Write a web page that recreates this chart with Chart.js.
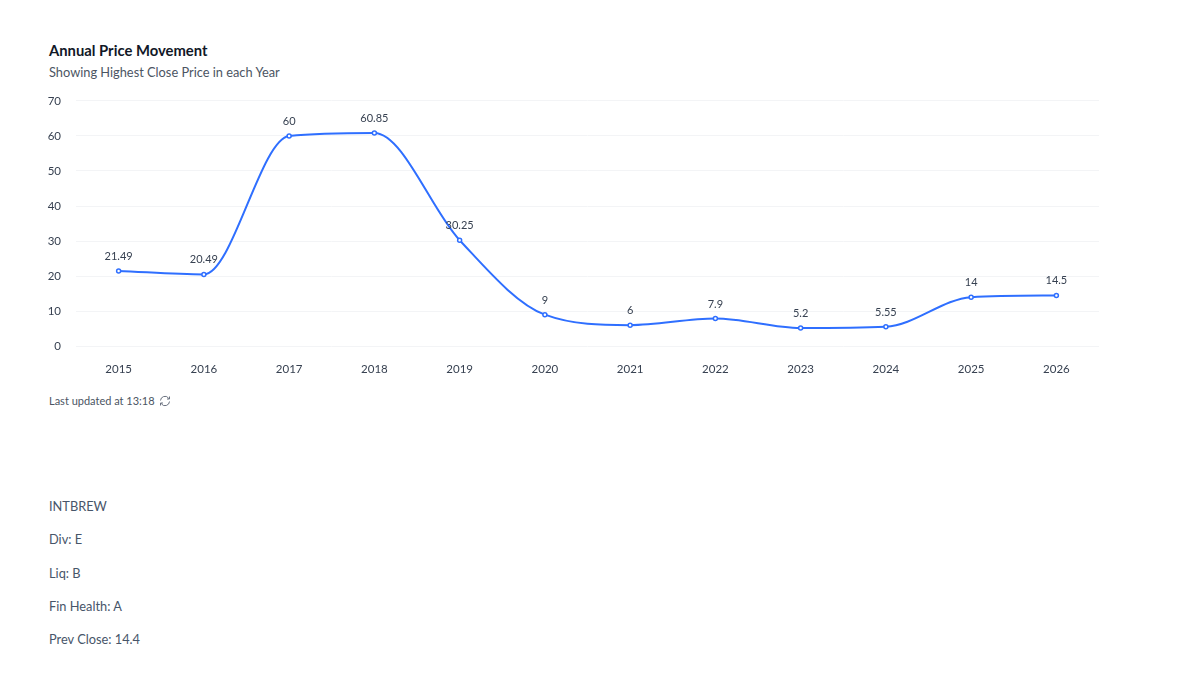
<!DOCTYPE html>
<html>
<head>
<meta charset="utf-8">
<title>Annual Price Movement</title>
<script src="https://cdn.jsdelivr.net/npm/chart.js@4"></script>
<style>
    html, body { margin: 0; padding: 0; background: #fff; font-family: Lato, sans-serif; }
    body { width: 1199px; height: 689px; position: relative; overflow: hidden; }
    .txt { position: absolute; left: 49px; white-space: nowrap; line-height: 20px; }
    #title { top: 40px; font-size: 14.8px; font-weight: 700; color: #111827; }
    #subtitle { top: 62px; font-size: 12.8px; color: #4b5563; }
    #updated { top: 391px; font-size: 11px; color: #4b5563; }
    #updated svg { vertical-align: -2px; margin-left: 2px; }
    .info { font-size: 12.8px; color: #475569; }
    #chartBox { position: absolute; left: 0; top: 79px; width: 1199px; height: 305px; }
</style>
</head>
<body>
<div class="txt" id="title">Annual Price Movement</div>
<div class="txt" id="subtitle">Showing Highest Close Price in each Year</div>
<div id="chartBox"><canvas id="priceChart"></canvas></div>
<div class="txt" id="updated">Last updated at 13:18
    <svg width="12" height="12" viewBox="0 0 24 24" fill="none" stroke="#6b7280" stroke-width="2">
        <path d="M3 11a9 9 0 0 1 16-5l2 2M21 3v5h-5M21 13a9 9 0 0 1-16 5l-2-2M3 21v-5h5"/>
    </svg>
</div>
<div class="txt info" style="top:496px">INTBREW</div>
<div class="txt info" style="top:529px">Div: E</div>
<div class="txt info" style="top:563px">Liq: B</div>
<div class="txt info" style="top:596px">Fin Health: A</div>
<div class="txt info" style="top:629px">Prev Close: 14.4</div>

<script>
const years = ['2015', '2016', '2017', '2018', '2019', '2020', '2021', '2022', '2023', '2024', '2025', '2026'];
const highestClose = [21.49, 20.49, 60, 60.85, 30.25, 9, 6, 7.9, 5.2, 5.55, 14, 14.5];
const yTicks = [0, 10, 20, 30, 40, 50, 60, 70];

const lineBlue = '#2f6fff';

// Draw the value above each point
const valueLabels = {
    id: 'valueLabels',
    afterDatasetsDraw(chart) {
        const { ctx } = chart;
        ctx.save();
        ctx.font = '11px Lato';
        ctx.fillStyle = '#374151';
        ctx.textAlign = 'center';
        ctx.textBaseline = 'middle';
        chart.getDatasetMeta(0).data.forEach((pt, i) => {
            ctx.fillText(String(highestClose[i]), pt.x, pt.y - 14.5);
        });
        ctx.restore();
    }
};

new Chart(document.getElementById('priceChart'), {
    type: 'line',
    data: {
        labels: years,
        datasets: [{
            data: highestClose,
            borderColor: lineBlue,
            borderWidth: 2,
            cubicInterpolationMode: 'monotone',
            pointRadius: 2,
            pointBorderWidth: 1.5,
            pointBackgroundColor: '#fff',
            pointBorderColor: lineBlue
        }]
    },
    options: {
        responsive: true,
        maintainAspectRatio: false,
        animation: false,
        layout: { padding: { left: 0, right: 100, top: 10, bottom: 0 } },
        plugins: { legend: { display: false }, tooltip: { enabled: false } },
        scales: {
            x: {
                offset: true,
                grid: { display: false },
                border: { display: false },
                ticks: { color: '#374151', font: { family: 'Lato', size: 11.5 }, padding: 8, maxRotation: 0 }
            },
            y: {
                min: 0,
                max: 70,
                afterFit(scale) { scale.width = 76; },
                afterBuildTicks(scale) { scale.ticks = yTicks.map(v => ({ value: v })); },
                grid: { color: '#f3f4f6', drawTicks: false },
                border: { display: false },
                ticks: { color: '#374151', font: { family: 'Lato', size: 11.5 }, padding: 15 }
            }
        }
    },
    plugins: [valueLabels]
});
</script>
</body>
</html>
